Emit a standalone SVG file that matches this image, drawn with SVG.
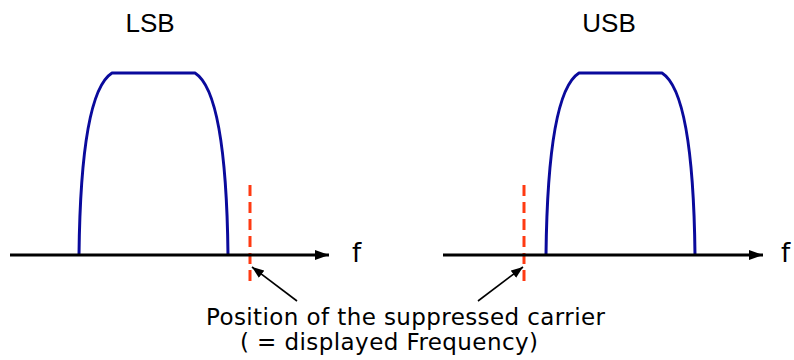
<svg xmlns="http://www.w3.org/2000/svg" width="794" height="360" viewBox="0 0 794 360">
<defs>
<marker id="axisHead" markerWidth="14" markerHeight="10" refX="14" refY="5" orient="auto" markerUnits="userSpaceOnUse"><path d="M0,0 L14,5 L0,10 Z" fill="#000"/></marker>
<marker id="ptrHead" markerWidth="12" markerHeight="9" refX="12" refY="4.5" orient="auto" markerUnits="userSpaceOnUse"><path d="M0,0 L12,4.5 L0,9 Z" fill="#000"/></marker>
</defs>
<style>
.axis{stroke:#000;stroke-width:3;fill:none}
.band{stroke:#0a0a9c;stroke-width:3;fill:none;stroke-linejoin:round}
.carrier{stroke:#ff3a12;stroke-width:3;stroke-dasharray:11,6;fill:none}
.ptr{stroke:#000;stroke-width:1.6;fill:none}
.title{font-family:"Liberation Sans",Arial,sans-serif;font-size:26px;fill:#000;text-anchor:middle}
.lbl{font-family:"DejaVu Sans",Verdana,sans-serif;font-size:23px;fill:#000}
</style>
<g id="lsb">
<text class="title" x="150" y="32">LSB</text>
<path class="band" d="M79,255 C80,165 88,88 112,73 L195,73 C219,88 227,165 228,255"/>
</g>
<g id="usb">
<text class="title" x="609" y="32">USB</text>
<path class="band" d="M546,255 C547,165 555,88 579,73 L662,73 C686,88 694,165 695,255"/>
</g>
<g id="carriers">
<line class="carrier" x1="250" y1="185" x2="250" y2="281"/>
<line class="carrier" x1="524" y1="185" x2="524" y2="281"/>
</g>
<g id="connectors">
<line class="axis" x1="10" y1="255" x2="329" y2="255" marker-end="url(#axisHead)"/>
<line class="axis" x1="443" y1="255" x2="763" y2="255" marker-end="url(#axisHead)"/>
<line class="ptr" x1="297" y1="301" x2="252" y2="267" marker-end="url(#ptrHead)"/>
<line class="ptr" x1="478" y1="301" x2="523" y2="267" marker-end="url(#ptrHead)"/>
</g>
<g id="axis-labels">
<text class="lbl" x="352" y="262" style="font-size:26px">f</text>
<text class="lbl" x="781" y="262" style="font-size:26px">f</text>
</g>
<g id="caption">
<text class="lbl" x="206" y="325" textLength="399" lengthAdjust="spacing">Position of the suppressed carrier</text>
<text class="lbl" x="240" y="350" textLength="298" lengthAdjust="spacing">( = displayed Frequency)</text>
</g>
</svg>
